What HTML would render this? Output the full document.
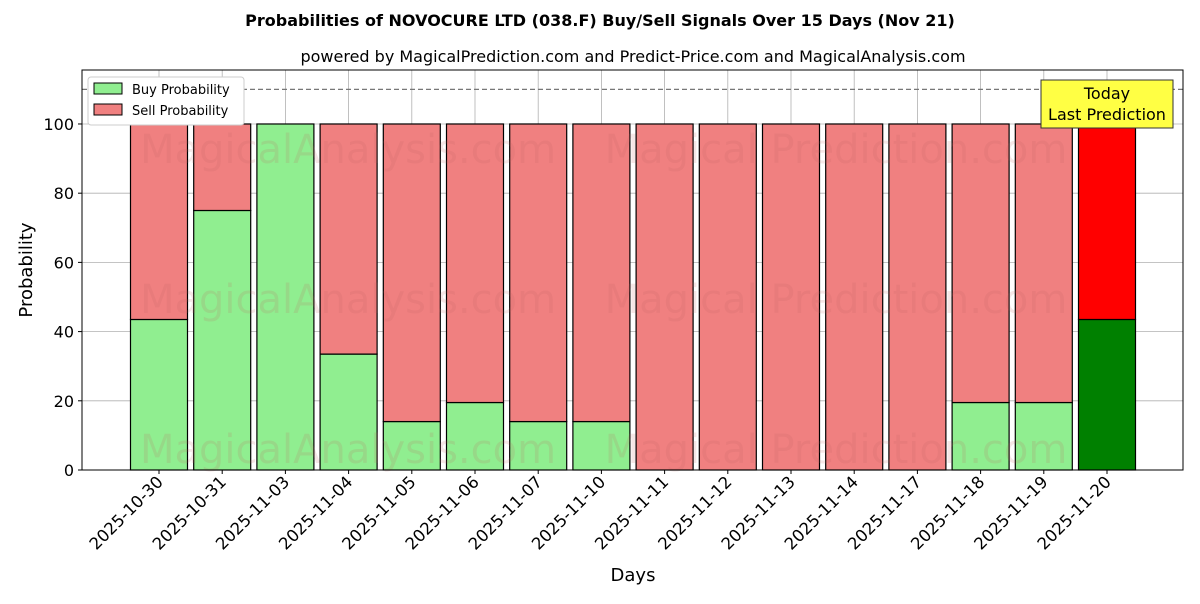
<!DOCTYPE html>
<html><head><meta charset="utf-8">
<style>
body{margin:0;background:#fff;width:1200px;height:600px;overflow:hidden;font-family:"DejaVu Sans","Liberation Sans",sans-serif;}
</style></head>
<body>
<svg id="chart" width="1200" height="600" xmlns="http://www.w3.org/2000/svg" font-family="DejaVu Sans, Liberation Sans, sans-serif">
<text x="600" y="26" text-anchor="middle" font-size="16" font-weight="bold">Probabilities of NOVOCURE LTD (038.F) Buy/Sell Signals Over 15 Days (Nov 21)</text>
<text x="633" y="62" text-anchor="middle" font-size="16">powered by MagicalPrediction.com and Predict-Price.com and MagicalAnalysis.com</text>
<g id="grid"></g>
<g id="bars"></g>
<g id="wm" font-size="40" fill="#c06060" opacity="0.15">
<text x="348" y="163" text-anchor="middle">MagicalAnalysis.com</text>
<text x="836" y="163" text-anchor="middle">Magical Prediction.com</text>
<text x="348" y="313" text-anchor="middle">MagicalAnalysis.com</text>
<text x="836" y="313" text-anchor="middle">Magical Prediction.com</text>
<text x="348" y="463" text-anchor="middle">MagicalAnalysis.com</text>
<text x="836" y="463" text-anchor="middle">Magical Prediction.com</text>
</g>
<g id="axes"></g>
<text x="633" y="581" text-anchor="middle" font-size="18">Days</text>
<text x="32" y="270" text-anchor="middle" font-size="18" transform="rotate(-90 32 270)">Probability</text>
<g>
<rect x="88" y="77" width="156" height="48" fill="#fff" stroke="#ccc" rx="3"/>
<rect x="94" y="83" width="28" height="11" fill="#90ee90" stroke="#000"/>
<text x="132" y="94" font-size="13">Buy Probability</text>
<rect x="94" y="104" width="28" height="11" fill="#f08080" stroke="#000"/>
<text x="132" y="115" font-size="13">Sell Probability</text>
</g>
<g>
<rect x="1041" y="80" width="132" height="48" fill="#ffff44" stroke="#333"/>
<text x="1107" y="99" text-anchor="middle" font-size="16">Today</text>
<text x="1107" y="120" text-anchor="middle" font-size="16">Last Prediction</text>
</g>
</svg>
<script>
const categories=["2025-10-30","2025-10-31","2025-11-03","2025-11-04","2025-11-05","2025-11-06","2025-11-07","2025-11-10","2025-11-11","2025-11-12","2025-11-13","2025-11-14","2025-11-17","2025-11-18","2025-11-19","2025-11-20"];
const buyValues=[43.5,75,100,33.5,14,19.5,14,14,0,0,0,0,0,19.5,19.5,43.5];
const sellValues=[56.5,25,0,66.5,86,80.5,86,86,100,100,100,100,100,80.5,80.5,56.5];
const yTicks=[0,20,40,60,80,100];
const L=82,R=1183,T=70,B=470,YMAX=115.6;
const NS="http://www.w3.org/2000/svg";
const xs=i=>159+(i)*63.2;
const ys=v=>B-(v/YMAX)*(B-T);
const bw=57;
function mk(tag,attrs,parent){const e=document.createElementNS(NS,tag);for(const k in attrs)e.setAttribute(k,attrs[k]);parent.appendChild(e);return e;}
const grid=document.getElementById('grid'),bars=document.getElementById('bars'),axes=document.getElementById('axes');
yTicks.forEach(t=>{
 const g=mk('line',{x1:L,x2:R,y1:ys(t),y2:ys(t),stroke:'#b0b0b0','stroke-width':0.8},grid);
 
 
 mk('line',{x1:L-4,x2:L,y1:ys(t),y2:ys(t),stroke:'#000'},axes);
 const tx=mk('text',{x:L-8,y:ys(t)+6,'text-anchor':'end','font-size':16},axes);
 tx.textContent=t;
 
 
});
categories.forEach((c,i)=>{
 const x=xs(i);
 const g=mk('line',{x1:x,x2:x,y1:T,y2:B,stroke:'#b0b0b0','stroke-width':0.8},grid);
 
 
 const last=i===categories.length-1;
 const b=mk('rect',{x:x-bw/2,y:ys(buyValues[i]),width:bw,height:B-ys(buyValues[i]),fill:last?'#008000':'#90ee90',stroke:'#000','stroke-width':1.2},bars);
 
 
 const s=mk('rect',{x:x-bw/2,y:ys(buyValues[i]+sellValues[i]),width:bw,height:ys(buyValues[i])-ys(buyValues[i]+sellValues[i]),fill:last?'#ff0000':'#f08080',stroke:'#000','stroke-width':1.2},bars);
 
 
 mk('line',{x1:x,x2:x,y1:B,y2:B+4,stroke:'#000'},axes);
 const tx=mk('text',{x:x+5,y:B+13,'text-anchor':'end','font-size':16.5,transform:`rotate(-45 ${x+5} ${B+13})`},axes);
 tx.textContent=c;
 
 
});
const dl=mk('line',{x1:L,x2:R,y1:ys(110),y2:ys(110),stroke:'#777','stroke-dasharray':'5,3','stroke-width':1.2},axes);


const fr=mk('rect',{x:L,y:T,width:R-L,height:B-T,fill:'none',stroke:'#000','stroke-width':1},axes);


</script>
</body></html>
